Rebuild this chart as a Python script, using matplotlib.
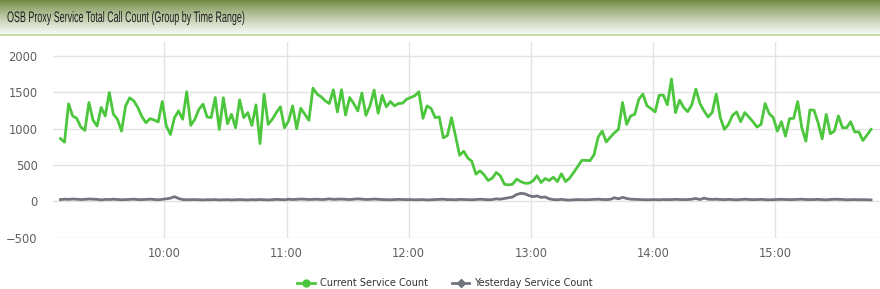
import numpy as np
import pandas as pd
import matplotlib
matplotlib.use("Agg")
import matplotlib.pyplot as plt
import matplotlib.dates as mdates
from matplotlib.lines import Line2D
from matplotlib import patheffects
from matplotlib.transforms import Affine2D

title = "OSB Proxy Service Total Call Count (Group by Time Range)"
series_names = ["Current Service Count", "Yesterday Service Count"]
start_time = "2024-01-01 09:09"
end_time = "2024-01-01 15:47"
y_ticks = [-500, 0, 500, 1000, 1500, 2000]

current = [
    865, 815, 1343, 1176, 1143, 1023, 977, 1361, 1120, 1037,
    1292, 1176, 1500, 1200, 1130, 968, 1315, 1426, 1384, 1292,
    1167, 1083, 1139, 1120, 1093, 1375, 1037, 921, 1153, 1245,
    1130, 1509, 1046, 1130, 1268, 1338, 1162, 1153, 1430, 990,
    1426, 1069, 1200, 1014, 1398, 1153, 1222, 1046, 1329, 796,
    1477, 1060, 1130, 1222, 1301, 1014, 1106, 1315, 1000, 1282,
    1200, 1116, 1560, 1477, 1440, 1384, 1347, 1537, 1231, 1537,
    1190, 1430, 1347, 1245, 1491, 1185, 1315, 1532, 1213, 1460,
    1301, 1375, 1315, 1347, 1352, 1407, 1430, 1454, 1509, 1143,
    1315, 1278, 1153, 1162, 875, 907, 1153, 898, 634, 690,
    597, 551, 375, 421, 366, 287, 319, 398, 352, 236,
    227, 236, 306, 273, 250, 250, 282, 352, 259, 315,
    287, 333, 273, 380, 273, 319, 398, 481, 565, 565,
    560, 643, 884, 968, 819, 884, 944, 991, 1361, 1060,
    1176, 1199, 1407, 1477, 1315, 1278, 1231, 1463, 1463, 1329,
    1685, 1222, 1393, 1292, 1236, 1329, 1546, 1347, 1245, 1162,
    1222, 1477, 1153, 991, 1060, 1185, 1231, 1097, 1222, 1162,
    1097, 1023, 1060, 1347, 1208, 1153, 968, 1097, 898, 1139,
    1143, 1375, 1014, 829, 1259, 1255, 1083, 861, 1199, 931,
    968, 1176, 1014, 1014, 1097, 954, 958, 838, 912, 991,
]

yesterday = [
    25, 30, 28, 32, 30, 25, 28, 33, 30, 28,
    20, 28, 25, 30, 26, 22, 25, 28, 30, 25,
    24, 27, 30, 26, 22, 28, 35, 45, 65, 40,
    25, 22, 24, 25, 22, 20, 24, 22, 25, 20,
    22, 24, 20, 22, 25, 22, 20, 24, 22, 26,
    22, 20, 24, 28, 25, 22, 30, 25, 28, 32,
    30, 26, 28, 30, 25, 28, 35, 28, 30, 32,
    28, 25, 30, 35, 30, 26, 28, 32, 28, 25,
    24, 22, 25, 28, 26, 24, 25, 22, 24, 25,
    20, 22, 25, 28, 30, 24, 25, 22, 28, 26,
    24, 22, 25, 30, 26, 22, 25, 35, 30, 40,
    50, 60, 95, 110, 105, 80, 65, 75, 55, 60,
    35, 25, 22, 28, 20, 18, 22, 25, 24, 22,
    25, 28, 30, 26, 24, 28, 50, 35, 55, 40,
    30, 28, 25, 24, 22, 24, 25, 22, 26, 24,
    25, 28, 26, 24, 25, 30, 40, 25, 45, 30,
    28, 30, 26, 24, 28, 25, 22, 25, 30, 26,
    24, 25, 28, 24, 22, 24, 25, 28, 26, 24,
    25, 28, 30, 26, 24, 25, 28, 24, 22, 26,
    30, 28, 26, 22, 24, 25, 22, 24, 22, 20,
]

times = pd.date_range(start_time, end_time, periods=len(current))

green = "#4cc63c"
gray = "#72747e"


class Squeeze(patheffects.AbstractPathEffect):
    # narrow the glyphs horizontally (condensed look of the header font)
    def __init__(self, sx):
        super().__init__()
        self.sx = sx

    def draw_path(self, renderer, gc, tpath, affine, rgbFace=None):
        renderer.draw_path(gc, tpath, Affine2D().scale(self.sx, 1) + affine, rgbFace)


fig = plt.figure(figsize=(8.8, 2.89), dpi=100)

# header bar with gradient
hdr = fig.add_axes([0, 1 - 36 / 289, 1, 36 / 289])
top_c = np.array([0.42, 0.53, 0.23])
bot_c = np.array([1.0, 1.0, 1.0])
t = np.linspace(0, 1, 64) ** 0.8
grad = top_c[None, :] * (1 - t[:, None]) + bot_c[None, :] * t[:, None]
hdr.imshow(grad[:, None, :], aspect="auto", extent=[0, 1, 0, 1])
hdr.axhline(0.02, color="#c8e0a8", lw=1.5)
hdr.set_xlim(0, 1)
hdr.set_ylim(0, 1)
hdr.axis("off")
hdr.text(0.008, 0.5, title, fontsize=11, color="#1e1e1e",
         family=["Liberation Sans", "DejaVu Sans"],
         va="center", ha="left", path_effects=[Squeeze(0.585)])

ax = fig.add_axes([53 / 880, (289 - 237.7) / 289, 1 - 53 / 880, (237.7 - 42) / 289])
ax.plot(times, yesterday, color=gray, lw=2, solid_joinstyle="round")
ax.plot(times, current, color=green, lw=2, solid_joinstyle="round")

t0 = pd.Timestamp("2024-01-01 09:05:21")
t1 = pd.Timestamp("2024-01-01 15:51:24")
ax.set_xlim(t0, t1)
ax.set_ylim(-500, 2194)
ax.set_yticks(y_ticks)
ax.xaxis.set_major_locator(mdates.HourLocator())
ax.xaxis.set_major_formatter(mdates.DateFormatter("%H:%M"))
ax.grid(True, color="#e3e3e3", lw=1)
ax.set_axisbelow(True)
for s in ax.spines.values():
    s.set_visible(False)
ax.tick_params(axis="y", length=0, pad=11, labelsize=8.3, labelcolor="#606060")
ax.tick_params(axis="x", length=0, pad=7, labelsize=8.3, labelcolor="#606060")

handles = [
    Line2D([], [], color=green, lw=2, marker="o", markersize=5),
    Line2D([], [], color=gray, lw=2, marker="D", markersize=4),
]
fig.legend(handles, series_names, loc="center", bbox_to_anchor=(445 / 880, 1 - 283 / 289),
           ncol=2, frameon=False, fontsize=7, handlelength=1.8, columnspacing=2.5,
           handletextpad=0.5, labelcolor="#333333")

fig.savefig("out.png", dpi=100)
